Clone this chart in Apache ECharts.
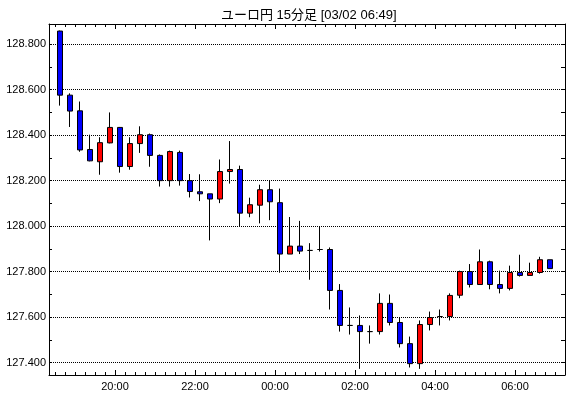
<!DOCTYPE html>
<html>
<head>
<meta charset="utf-8">
<script src="https://cdn.jsdelivr.net/npm/echarts@6/dist/echarts.min.js"></script>
<style>
html, body { margin: 0; padding: 0; background: #fff; }
#main { width: 570px; height: 398px; }
</style>
</head>
<body>
<div id="main"></div>
<script>
// 15分足 ユーロ円
var times = ['18:30','18:45','19:00','19:15','19:30','19:45','20:00','20:15','20:30','20:45',
  '21:00','21:15','21:30','21:45','22:00','22:15','22:30','22:45','23:00','23:15',
  '23:30','23:45','00:00','00:15','00:30','00:45','01:00','01:15','01:30','01:45',
  '02:00','02:15','02:30','02:45','03:00','03:15','03:30','03:45','04:00','04:15',
  '04:30','04:45','05:00','05:15','05:30','05:45','06:00','06:15','06:30','06:45'];
var openP = [128.858,128.576,128.507,128.337,128.283,128.366,128.434,128.262,128.363,128.402,
  128.311,128.200,128.324,128.200,128.151,128.142,128.119,128.240,128.249,128.057,
  128.092,128.160,128.103,127.877,127.912,127.893,127.897,127.897,127.717,127.563,
  127.563,127.536,127.536,127.660,127.576,127.483,127.395,127.567,127.602,127.602,
  127.696,127.800,127.743,127.843,127.743,127.726,127.796,127.783,127.796,127.852];
var closeP = [128.576,128.506,128.335,128.287,128.367,128.434,128.262,128.363,128.402,128.311,
  128.200,128.328,128.200,128.152,128.142,128.119,128.240,128.249,128.057,128.094,
  128.160,128.107,127.877,127.912,127.890,127.893,127.897,127.717,127.563,127.563,
  127.536,127.536,127.660,127.576,127.483,127.395,127.567,127.598,127.602,127.695,
  127.800,127.743,127.843,127.743,127.726,127.796,127.783,127.796,127.852,127.813];
var lowP = [128.530,128.436,128.327,128.285,128.226,128.364,128.235,128.248,128.322,128.261,
  128.174,128.174,128.178,128.126,128.110,127.937,128.101,128.187,127.999,128.039,
  128.012,128.026,127.795,127.877,127.877,127.764,127.888,127.633,127.536,127.523,
  127.372,127.483,127.523,127.563,127.466,127.378,127.372,127.541,127.563,127.585,
  127.683,127.730,127.743,127.722,127.704,127.717,127.778,127.783,127.791,127.813];
var highP = [128.860,128.584,128.548,128.402,128.391,128.500,128.436,128.391,128.439,128.407,
  128.315,128.332,128.332,128.229,128.228,128.142,128.293,128.374,128.266,128.125,
  128.182,128.200,128.165,128.040,128.023,127.925,127.999,127.906,127.745,127.642,
  127.607,127.563,127.704,127.699,127.598,127.514,127.585,127.624,127.633,127.704,
  127.804,127.833,127.897,127.848,127.804,127.826,127.874,127.839,127.865,127.852];
var xLabels = ['20:00','22:00','00:00','02:00','04:00','06:00'];
var yLabels = ['127.400','127.600','127.800','128.000','128.200','128.400','128.600','128.800'];
var titleText = 'ユーロ円 15分足 [03/02 06:49]';

// minutes from 18:00
function toMin(s) {
  var p = s.split(':');
  var m = (+p[0]) * 60 + (+p[1]) - 18 * 60;
  return m < 0 ? m + 1440 : m;
}
function fmtMin(v) {
  var m = Math.round(v) + 18 * 60;
  var h = Math.floor(m / 60) % 24, mm = m % 60;
  return (h < 10 ? '0' : '') + h + ':' + (mm < 10 ? '0' : '') + mm;
}

var candles = times.map(function (t, i) {
  return [toMin(t) + 7.5, openP[i], closeP[i], lowP[i], highP[i]];
});
var minorX = times.map(toMin);
minorX.push(minorX[minorX.length - 1] + 15);
var majorX = xLabels.map(toMin);
var yMajor = yLabels.map(Number);
var yMinor = [];
yMajor.forEach(function (v, i) {
  yMinor.push(v);
  if (i < yMajor.length - 1) yMinor.push((v + yMajor[i + 1]) / 2);
});

var xMin = 21, xMax = 795;
var yMin = 127.345, yMax = 128.889;
var black = '#000';
var lblFont = "'Liberation Sans', Arial, sans-serif";

function xAx(pos, ticks, len, showLine, labels) {
  return {
    type: 'value', position: pos, min: xMin, max: xMax,
    splitLine: { show: false },
    axisLine: { show: showLine, lineStyle: { color: black, width: 1 } },
    axisTick: { inside: true, length: len, customValues: ticks, lineStyle: { color: black } },
    axisLabel: labels ? {
      customValues: labels, formatter: fmtMin, color: black,
      fontSize: 11, fontFamily: lblFont, margin: 6
    } : { show: false }
  };
}
function yAx(pos, ticks, len, showLine, labels, grid) {
  return {
    type: 'value', position: pos, min: yMin, max: yMax,
    splitLine: grid ? { show: true, lineStyle: { color: black, type: [1, 1], width: 1 } } : { show: false },
    axisLine: { show: showLine, lineStyle: { color: black, width: 1 } },
    axisTick: { inside: true, length: len, customValues: ticks, lineStyle: { color: black } },
    axisLabel: labels ? {
      customValues: labels, formatter: function (v) { return v.toFixed(3); },
      color: black, fontSize: 11, fontFamily: lblFont, margin: 3
    } : { show: false }
  };
}

var chart = echarts.init(document.getElementById('main'));
chart.setOption({
  animation: false,
  backgroundColor: '#fff',
  title: {
    text: titleText, left: 216, top: 4,
    textStyle: { fontSize: 13, fontWeight: 'normal', color: black,
      fontFamily: "'Liberation Sans', 'Noto Sans CJK JP', sans-serif" }
  },
  grid: { left: 49, right: 5, top: 24, bottom: 23 },
  xAxis: [
    xAx('bottom', minorX, 3, true, majorX),
    xAx('bottom', majorX, 5, false, null),
    xAx('top', minorX, 3, true, null),
    xAx('top', majorX, 5, false, null)
  ],
  yAxis: [
    yAx('left', yMajor, 3, true, yMajor, true),
    yAx('left', yMinor, 3, false, null, false),
    yAx('right', yMinor, 4, true, null, false)
  ],
  series: [{
    type: 'candlestick',
    xAxisIndex: 0, yAxisIndex: 0,
    barWidth: 5,
    encode: { x: 0, y: [1, 2, 3, 4] },
    itemStyle: {
      color: '#ff0000', color0: '#0000ff',
      borderColor: black, borderColor0: black, borderColorDoji: black,
      borderWidth: 1
    },
    data: candles
  }]
});
</script>
</body>
</html>
